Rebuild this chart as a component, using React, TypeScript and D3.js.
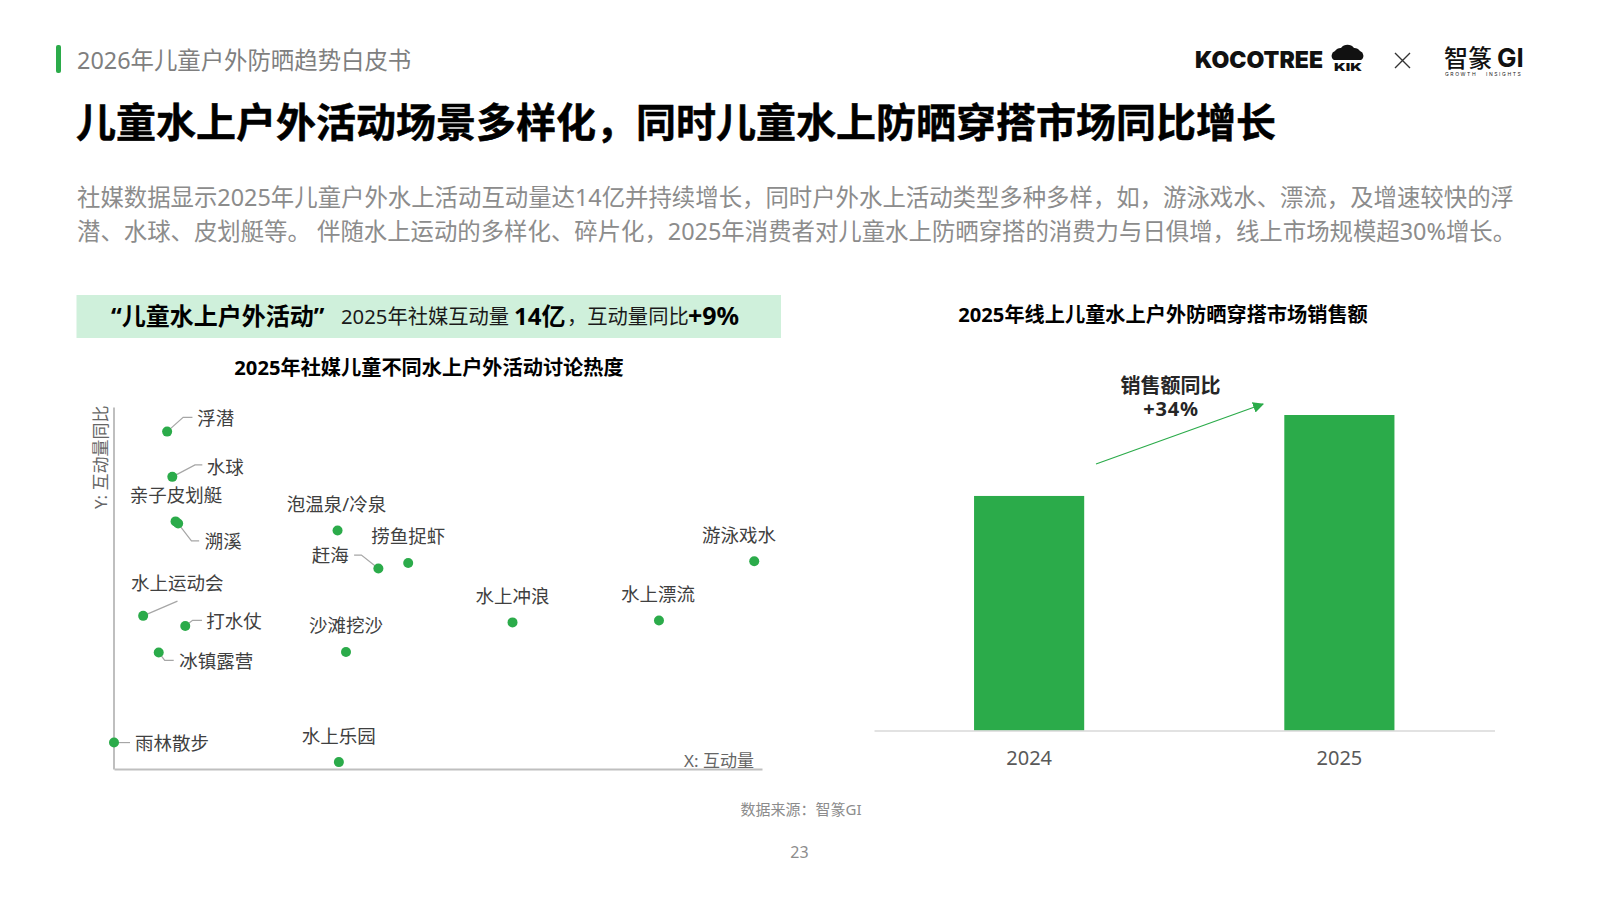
import { useEffect, useRef } from 'react';
import * as d3 from 'd3';

const FONT = '"Noto Sans", "Noto Sans CJK SC", sans-serif';
const GREEN = '#2bab4a';
const COMMA = '\uFF0C';
const COLON = '\uFF1A';

// scatter data (0-100 index on both axes)
const activities = ['浮潜', '水球', '亲子皮划艇', '溯溪', '泡温泉/冷泉', '赶海', '捞鱼捉虾', '游泳戏水', '水上冲浪', '水上漂流', '水上运动会', '打水仗', '冰镇露营', '沙滩挖沙', '雨林散步', '水上乐园'];
const interaction = [8.2, 9.0, 9.5, 9.9, 34.5, 40.8, 45.4, 98.8, 61.5, 84.1, 4.5, 11.0, 6.9, 35.8, 0, 34.7];
const growth = [93.2, 80.7, 68.4, 67.8, 65.9, 55.4, 56.9, 57.4, 40.5, 41.0, 42.3, 39.5, 32.2, 32.3, 7.3, 1.9];

// sales bars
const years = ['2024', '2025'];
const sales = [100, 134.5];

// label placement relative to each dot: dx, dy, anchor, optional leader line
type Placement = { dx: number; dy: number; anchor: string; leader?: [number, number][] };
const placements: Record<string, Placement> = {
  '浮潜': { dx: 30, dy: -14.5, anchor: 'start', leader: [[0, 0], [16, -14.3], [25.3, -14.3]] },
  '水球': { dx: 34.5, dy: -10.5, anchor: 'start', leader: [[0, 0], [22.7, -12], [30, -12]] },
  '亲子皮划艇': { dx: -45.8, dy: -27, anchor: 'start' },
  '溯溪': { dx: 26.7, dy: 17, anchor: 'start', leader: [[0, 0], [13.3, 17.3], [21, 17.3]] },
  '泡温泉/冷泉': { dx: -1, dy: -27, anchor: 'middle' },
  '赶海': { dx: -29.5, dy: -13.7, anchor: 'end', leader: [[0, 0], [-17, -13.3], [-24.3, -13.3]] },
  '捞鱼捉虾': { dx: 0, dy: -28, anchor: 'middle' },
  '游泳戏水': { dx: -15.3, dy: -27, anchor: 'middle' },
  '水上冲浪': { dx: 0, dy: -26.5, anchor: 'middle' },
  '水上漂流': { dx: -1, dy: -27.5, anchor: 'middle' },
  '水上运动会': { dx: -12.2, dy: -33, anchor: 'start', leader: [[0, 0], [34.3, -14.7]] },
  '打水仗': { dx: 21, dy: -6, anchor: 'start', leader: [[0, 0], [7.3, -5.7], [16.7, -5.7]] },
  '冰镇露营': { dx: 20.5, dy: 8, anchor: 'start', leader: [[0, 0], [6, 8], [15, 8]] },
  '沙滩挖沙': { dx: 0, dy: -28, anchor: 'middle' },
  '雨林散步': { dx: 21, dy: 0, anchor: 'start', leader: [[0, 0], [16, 0]] },
  '水上乐园': { dx: 0, dy: -26.8, anchor: 'middle' },
};

const titleText = `儿童水上户外活动场景多样化${COMMA}同时儿童水上防晒穿搭市场同比增长`;
const bodyLines = [
  `社媒数据显示2025年儿童户外水上活动互动量达14亿并持续增长${COMMA}同时户外水上活动类型多种多样${COMMA}如${COMMA}游泳戏水、漂流${COMMA}及增速较快的浮`,
  `潜、水球、皮划艇等。 伴随水上运动的多样化、碎片化${COMMA}2025年消费者对儿童水上防晒穿搭的消费力与日俱增${COMMA}线上市场规模超30%增长。`,
];

const x = d3.scaleLinear().domain([0, 100]).range([114, 762]);
const y = d3.scaleLinear().domain([0, 100]).range([769, 407]);
const barX = d3.scaleBand().domain(years).range([874, 1494.5]).paddingInner(0.645).paddingOuter(0.3225);
const barY = d3.scaleLinear().domain([0, 134.5]).range([730.6, 415]);
const line = d3.line();

export default function App() {
  const scatterAxes = useRef<SVGGElement>(null);
  const barAxis = useRef<SVGGElement>(null);

  useEffect(() => {
    const g = d3.select(scatterAxes.current);
    g.selectAll('*').remove();
    const bottom = g.append('g').attr('transform', 'translate(0,769)').call(d3.axisBottom(x).tickValues([]).tickSize(0));
    const left = g.append('g').attr('transform', 'translate(113.5,0)').call(d3.axisLeft(y).tickValues([]).tickSize(0));
    bottom.select('.domain').attr('stroke', '#bfbfbf').attr('stroke-width', 2);
    left.select('.domain').attr('stroke', '#bfbfbf').attr('stroke-width', 2);

    const b = d3.select(barAxis.current);
    b.selectAll('*').remove();
    b.attr('transform', 'translate(0,730.6)').call(d3.axisBottom(barX).tickSize(0).tickPadding(20));
    b.select('.domain').attr('stroke', '#d9d9d9').attr('stroke-width', 1.5);
    b.selectAll('text').attr('font-family', FONT).attr('font-size', 20).attr('fill', '#595959');
  }, []);

  return (
    <svg width={1600} height={900} style={{ position: 'absolute', left: 0, top: 0, background: '#fff' }} fontFamily={FONT}>
      {/* header */}
      <rect x={56} y={45} width={5} height={28} rx={2} fill={GREEN} />
      <text x={77} y={68.5} fontSize={23.4} fill="#7f7f7f">2026年儿童户外防晒趋势白皮书</text>
      <text x={76} y={137} fontSize={40} fontWeight={700} fill="#000" stroke="#000" strokeWidth={0.5}>{titleText}</text>
      {bodyLines.map((l, i) => (
        <text key={i} x={77} y={206 + i * 34} fontSize={23.4} fill="#8c8c8c">{l}</text>
      ))}

      {/* logos */}
      <text x={1195} y={68} fontSize={23} fontWeight={900} fill="#111" fontFamily="Inter, sans-serif" textLength={128} lengthAdjust="spacingAndGlyphs">KOCOTREE</text>
      <path d="M1334 60a5 5 0 0 1 1-9a7 7 0 0 1 6-3a8 8 0 0 1 13 0a7 7 0 0 1 6 3a5 5 0 0 1 1 9z" fill="#111" />
      <text x={1334} y={71} fontSize={11} fontWeight={900} fill="#111" fontFamily="Inter, sans-serif" textLength={28} lengthAdjust="spacingAndGlyphs">KIK</text>
      <path d="M1395 53l15 15M1410 53l-15 15" stroke="#333" strokeWidth={1.4} fill="none" />
      <text x={1444} y={67} fontSize={24} fontWeight={500} fill="#111" fontFamily='"Noto Sans CJK SC"'>智篆</text>
      <text x={1497} y={67} fontSize={26} fontWeight={700} fill="#111" fontFamily="Inter, sans-serif">GI</text>
      <text x={1445} y={76} fontSize={5} fill="#222" letterSpacing={1.6} fontFamily="Inter, sans-serif">GROWTH</text>
      <text x={1486} y={76} fontSize={5} fill="#222" letterSpacing={1.6} fontFamily="Inter, sans-serif">INSIGHTS</text>

      {/* banner */}
      <rect x={76.5} y={295} width={704.5} height={43} fill="#cff0db" />
      <text x={111} y={325} fontSize={24} fontWeight={700} fill="#000">“儿童水上户外活动”</text>
      <text x={341} y={324} fontSize={20.3} fill="#1a1a1a">2025年社媒互动量</text>
      <text x={514} y={325} fontSize={24} fontWeight={700} fill="#000">14亿</text>
      <text x={567} y={324} fontSize={20.3} fill="#1a1a1a">{`${COMMA}互动量同比`}</text>
      <text x={688} y={325} fontSize={25} fontWeight={700} fill="#000">+9%</text>

      {/* scatter */}
      <text x={429} y={374.5} fontSize={20.2} fontWeight={700} textAnchor="middle" fill="#000">2025年社媒儿童不同水上户外活动讨论热度</text>
      <g ref={scatterAxes} />
      <text transform="translate(107,509) rotate(-90)" fontSize={17} fill="#666">Y: 互动量同比</text>
      <text x={684} y={767} fontSize={17} fill="#666">X: 互动量</text>
      {activities.map((name, i) => {
        const p = placements[name];
        const cx = x(interaction[i]);
        const cy = y(growth[i]);
        return (
          <g key={name}>
            {p.leader && (
              <path d={line(p.leader.map(([a, b]) => [cx + a, cy + b] as [number, number])) as string} fill="none" stroke="#a6a6a6" strokeWidth={1.2} />
            )}
            <circle cx={cx} cy={cy} r={5} fill={GREEN} />
            <text x={cx + p.dx} y={cy + p.dy} fontSize={18.5} fill="#404040" textAnchor={p.anchor} dominantBaseline="central">{name}</text>
          </g>
        );
      })}

      {/* bars */}
      <text x={1163} y={321.5} fontSize={20.2} fontWeight={700} textAnchor="middle" fill="#000">2025年线上儿童水上户外防晒穿搭市场销售额</text>
      {years.map((yr, i) => (
        <rect key={yr} x={barX(yr)} y={barY(sales[i])} width={barX.bandwidth()} height={barY(0) - barY(sales[i])} fill={GREEN} />
      ))}
      <g ref={barAxis} />
      <defs>
        <marker id="arrow" viewBox="0 0 10 10" refX={9} refY={5} markerWidth={11} markerHeight={11} orient="auto" markerUnits="userSpaceOnUse">
          <path d="M0 0L10 5L0 10z" fill={GREEN} />
        </marker>
      </defs>
      <line x1={1096} y1={464} x2={1263} y2={404} stroke={GREEN} strokeWidth={1.2} markerEnd="url(#arrow)" />
      <text x={1170.5} y={392.5} fontSize={20} fontWeight={700} textAnchor="middle" fill="#262626">销售额同比</text>
      <text x={1171} y={416} fontSize={20} fontWeight={700} textAnchor="middle" fill="#262626" letterSpacing={0.8}>+34%</text>

      {/* footer */}
      <text x={801} y={815} fontSize={15} textAnchor="middle" fill="#8c8c8c">{`数据来源${COLON}智篆GI`}</text>
      <text x={799.5} y={858} fontSize={16} textAnchor="middle" fill="#8c8c8c">23</text>
    </svg>
  );
}
